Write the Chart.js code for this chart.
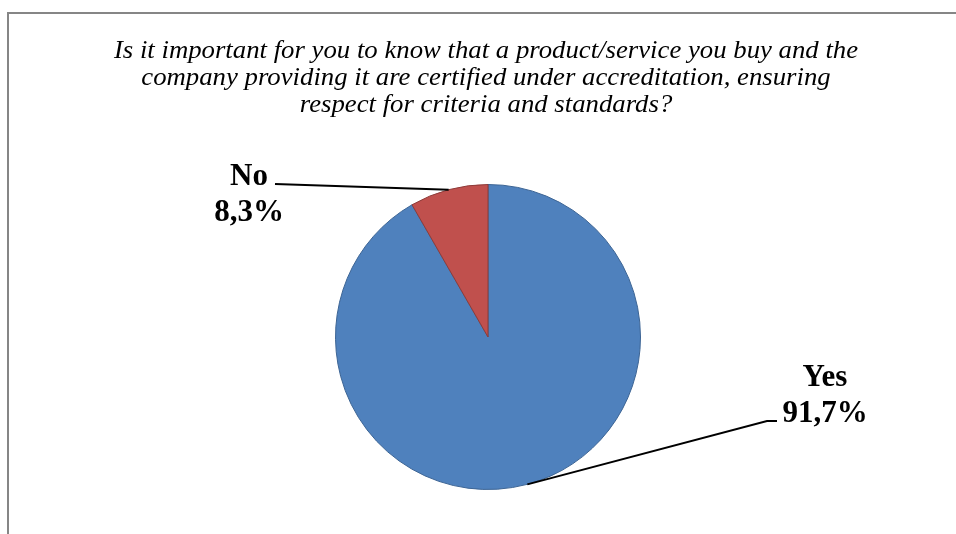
<!DOCTYPE html>
<html>
<head>
<meta charset="utf-8">
<script src="https://cdn.jsdelivr.net/npm/chart.js@4"></script>
<style>
  html, body { margin: 0; padding: 0; background: #ffffff; }
  #wrap { width: 956px; height: 534px; }
</style>
</head>
<body>
<div id="wrap"><canvas id="myChartPie" width="956" height="534"></canvas></div>
<script>
const categories = ['Yes', 'No'];
const values = [91.7, 8.3];
const valueLabels = ['91,7%', '8,3%'];
const titleLines = [
    'Is it important for you to know that a product/service you buy and the',
    'company providing it are certified under accreditation, ensuring',
    'respect for criteria and standards?'
];

// frame, title, labels + leader lines, drawn after the pie
const pieDecor = {
    id: 'pieDecor',
    afterDraw(chart) {
        const ctx = chart.ctx;
        ctx.save();

        // frame
        ctx.strokeStyle = '#868686';
        ctx.lineWidth = 2;
        ctx.beginPath();
        ctx.moveTo(8, 534);
        ctx.lineTo(8, 13);
        ctx.lineTo(956, 13);
        ctx.stroke();

        // title (a bit wider than Liberation Serif)
        ctx.fillStyle = '#000000';
        ctx.font = 'italic 25px "Liberation Serif", "Times New Roman", serif';
        ctx.textAlign = 'center';
        ctx.textBaseline = 'alphabetic';
        titleLines.forEach((t, i) => {
            ctx.save();
            ctx.translate(486, 58 + i * 27);
            ctx.scale(1.07, 1);
            ctx.fillText(t, 0, 0);
            ctx.restore();
        });

        const arcs = chart.getDatasetMeta(0).data;
        const place = [
            { lx: 825, ly: 386, bend: [777, 421, 767, 421] },  // Yes
            { lx: 249, ly: 185, bend: [275, 184, 275, 184] }   // No
        ];
        arcs.forEach((arc, i) => {
            const p = arc.getProps(['x', 'y', 'startAngle', 'endAngle', 'outerRadius'], true);
            const mid = (p.startAngle + p.endAngle) / 2;
            const ax = p.x + Math.cos(mid) * p.outerRadius;
            const ay = p.y + Math.sin(mid) * p.outerRadius;
            const b = place[i].bend;
            ctx.strokeStyle = '#000000';
            ctx.lineWidth = 2;
            ctx.beginPath();
            ctx.moveTo(ax, ay);
            ctx.lineTo(b[2], b[3]);
            ctx.lineTo(b[0], b[1]);
            ctx.stroke();

            ctx.font = 'bold 31px "Liberation Serif", "Times New Roman", serif';
            ctx.textAlign = 'center';
            ctx.fillText(categories[i], place[i].lx, place[i].ly);
            ctx.fillText(valueLabels[i], place[i].lx, place[i].ly + 36);
        });
        ctx.restore();
    }
};

const ctxPie = document.getElementById('myChartPie');

new Chart(ctxPie, {
    type: 'pie',
    data: {
        labels: categories,
        datasets: [{
            label: 'Respostas',
            data: values,
            backgroundColor: ['#4f81bd', '#c0504d'],
            borderColor: ['#3c6494', '#8e3b39'],
            borderWidth: 1
        }]
    },
    options: {
        responsive: false,
        animation: false,
        layout: {
            padding: { left: 335, right: 315, top: 184, bottom: 44 }
        },
        plugins: {
            legend: { display: false },
            tooltip: { enabled: false }
        }
    },
    plugins: [pieDecor]
});
</script>
</body>
</html>
